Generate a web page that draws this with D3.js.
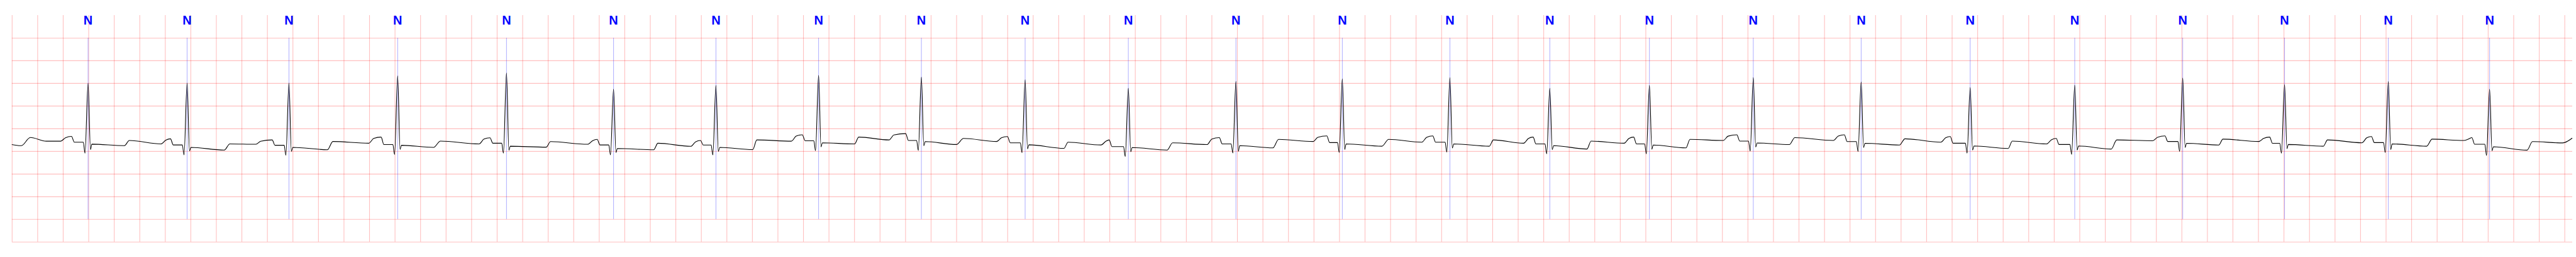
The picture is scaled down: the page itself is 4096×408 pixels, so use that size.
<!DOCTYPE html>
<html><head><meta charset="utf-8">
<script src="https://cdn.jsdelivr.net/npm/d3@7"></script>
<style>html,body{margin:0;padding:0;background:#fff;overflow:hidden}</style>
</head><body>
<svg id="chart" width="4096" height="408"></svg>
<script>
// ---- data (time in s, amplitude in mV) ----
const xDomain = [0, 20.061];
const yDomain = [-2.5, 2.5];
const xGridTicks = d3.range(0, 20.0001, 0.2);
const yGridTicks = [-2.5, -2, -1.5, -1, -0.5, 0, 0.5, 1, 1.5, 2];
const annLineRange = [-2, 2];

// beat annotations
const annTimes = [0.5976,1.3735,2.1715,3.0232,3.8759,4.7147,5.5169,6.3212,7.1266,7.9394,8.7480,9.5911,10.4245,11.2676,12.0503,12.8308,13.6446,14.4898,15.3439,16.1631,17.0092,17.8071,18.6201,19.4137];
const annSymbols = ["N","N","N","N","N","N","N","N","N","N","N","N","N","N","N","N","N","N","N","N","N","N","N","N"];

// leading segment before first P wave
const headTimes  = [0, 0.068, 0.075, 0.145, 0.27];
const headValues = [-0.355, -0.380, -0.380, -0.200, -0.281];

// P wave preceding each beat
const pStarts = [0.3824,1.1685,1.9118,2.7972,3.6612,4.5118,5.3194,6.1075,6.8730,7.7155,8.5339,9.3646,10.1948,11.0475,11.8450,12.6325,13.4093,14.2722,15.1133,15.9422,16.7740,17.6045,18.4129,19.2106];
const pOnsetLevels = [-0.281,-0.342,-0.350,-0.327,-0.342,-0.350,-0.395,-0.281,-0.254,-0.289,-0.365,-0.357,-0.289,-0.304,-0.327,-0.327,-0.266,-0.266,-0.304,-0.342,-0.272,-0.289,-0.317,-0.266];
const pPeaks = [-0.176,-0.229,-0.254,-0.191,-0.206,-0.242,-0.266,-0.140,-0.115,-0.178,-0.254,-0.204,-0.166,-0.166,-0.191,-0.191,-0.140,-0.140,-0.178,-0.221,-0.166,-0.191,-0.178,-0.204];
const pEnds = [0.4897,1.2651,2.0620,2.9153,3.7686,4.6084,5.4177,6.2156,7.0252,7.8229,8.6198,9.4832,10.3252,11.1554,11.9416,12.7294,13.5381,14.3801,15.2099,16.0402,16.8921,17.7124,18.5101,19.2966];

// QRS complexes
const rTimes = [0.5976,1.3735,2.1715,3.0232,3.8759,4.7147,5.5169,6.3212,7.1266,7.9394,8.7480,9.5911,10.4245,11.2676,12.0503,12.8308,13.6446,14.4898,15.3439,16.1631,17.0092,17.8071,18.6201,19.4137];
const rPeaks = [0.998,1.003,1.003,1.162,1.225,0.867,0.951,1.170,1.132,1.074,0.888,1.039,1.094,1.124,0.888,0.948,1.124,1.026,0.905,0.956,1.112,0.968,1.035,0.867];
const prLevels = [-0.304,-0.365,-0.372,-0.357,-0.327,-0.365,-0.367,-0.272,-0.266,-0.317,-0.402,-0.342,-0.312,-0.304,-0.342,-0.342,-0.279,-0.291,-0.327,-0.355,-0.289,-0.329,-0.312,-0.350];
const qLevels = [-0.548,-0.584,-0.592,-0.576,-0.546,-0.584,-0.586,-0.491,-0.486,-0.536,-0.621,-0.542,-0.531,-0.523,-0.561,-0.561,-0.499,-0.510,-0.546,-0.574,-0.508,-0.548,-0.531,-0.596];
const sLevels = [-0.466,-0.499,-0.508,-0.463,-0.484,-0.533,-0.508,-0.408,-0.382,-0.453,-0.514,-0.505,-0.466,-0.433,-0.470,-0.458,-0.412,-0.420,-0.478,-0.478,-0.420,-0.446,-0.466,-0.493];
const jLevels = [-0.347,-0.418,-0.418,-0.372,-0.393,-0.443,-0.418,-0.317,-0.291,-0.362,-0.423,-0.380,-0.342,-0.342,-0.380,-0.367,-0.322,-0.329,-0.388,-0.388,-0.329,-0.355,-0.342,-0.405];

// ST segment and T step after each beat
const stEnds = [0.882,1.6649,2.4726,3.3044,4.1871,5.0297,5.8051,6.6036,7.4016,8.2433,9.0518,9.8809,10.7341,11.5759,12.3414,13.1168,13.9272,14.7900,15.6415,16.4494,17.2919,18.1111,18.9200,19.7068];
const stLevels = [-0.380,-0.478,-0.470,-0.418,-0.414,-0.470,-0.468,-0.342,-0.355,-0.440,-0.478,-0.430,-0.393,-0.393,-0.455,-0.430,-0.357,-0.367,-0.443,-0.455,-0.367,-0.393,-0.393,-0.480];
const tRiseEnds = [0.9209,1.7079,2.5155,3.3580,4.2209,5.0619,5.8373,6.6358,7.4564,8.2758,9.0947,9.9252,10.7878,11.6081,12.3736,13.1490,13.9701,14.8329,15.6739,16.4923,17.3241,18.1435,18.9632,19.7497];
const tLevels = [-0.266,-0.342,-0.289,-0.279,-0.291,-0.327,-0.254,-0.191,-0.221,-0.304,-0.317,-0.242,-0.242,-0.254,-0.279,-0.242,-0.204,-0.229,-0.279,-0.254,-0.236,-0.254,-0.236,-0.291];

// trailing segment after last T step
const tailTimes  = [19.9858, 20.061];
const tailValues = [-0.320, -0.213];

// waveform shape offsets relative to R (s) and P-wave shape
const P_RISE = 0.038, P_FALL = 0.022, P_SHOULDER = 0.03;
const PR_END = -0.0376, Q_OFF = -0.0241, S_OFF = 0.0188, J_OFF = 0.0295;

// ---- build trace ----
const pts = [];
headTimes.forEach((t, i) => pts.push([t, headValues[i]]));
rTimes.forEach((r, i) => {
  pts.push([pStarts[i], pOnsetLevels[i]]);
  pts.push([pStarts[i] + P_RISE, pPeaks[i] - P_SHOULDER]);
  pts.push([pEnds[i] - P_FALL, pPeaks[i]]);
  pts.push([pEnds[i], prLevels[i]]);
  pts.push([r + PR_END, prLevels[i]]);
  pts.push([r + Q_OFF, qLevels[i]]);
  pts.push([r, rPeaks[i]]);
  pts.push([r + S_OFF, sLevels[i]]);
  pts.push([r + J_OFF, jLevels[i]]);
  pts.push([stEnds[i], stLevels[i]]);
  pts.push([tRiseEnds[i], tLevels[i]]);
});
tailTimes.forEach((t, i) => pts.push([t, tailValues[i]]));

// ---- chart ----
const svg = d3.select("#chart");
const x = d3.scaleLinear().domain(xDomain).range([18.79, 4090.0]);
const y = d3.scaleLinear().domain(yDomain).range([383.8, 23.94]);
const plotH = y(yDomain[0]) - y(yDomain[1]);
const plotW = x(xDomain[1]) - x(xDomain[0]);

const gridColor = "rgba(255,0,0,0.25)";

const gx = svg.append("g").attr("transform", `translate(0,${y(yDomain[0])})`)
  .call(d3.axisBottom(x).tickValues(xGridTicks).tickSize(-plotH).tickFormat(""));
gx.select(".domain").remove();
gx.selectAll(".tick line").attr("stroke", gridColor).attr("stroke-width", 1.1);

const gy = svg.append("g").attr("transform", `translate(${x(xDomain[0])},0)`)
  .call(d3.axisLeft(y).tickValues(yGridTicks).tickSize(-plotW).tickFormat(""));
gy.select(".domain").remove();
gy.selectAll(".tick line").attr("stroke", gridColor).attr("stroke-width", 1.1);

// annotation lines
svg.append("g").selectAll("line").data(annTimes).join("line")
  .attr("x1", d => x(d)).attr("x2", d => x(d))
  .attr("y1", y(annLineRange[1])).attr("y2", y(annLineRange[0]))
  .attr("stroke", "blue").attr("stroke-opacity", 0.55).attr("stroke-width", 0.6);

// ECG trace
const line = d3.line().x(d => x(d[0])).y(d => y(d[1])).curve(d3.curveMonotoneX);
svg.append("path").datum(pts).attr("d", line)
  .attr("fill", "none").attr("stroke", "black").attr("stroke-width", 1.1)
  .attr("stroke-linejoin", "round");

// annotation symbols
svg.append("g").selectAll("text").data(annTimes).join("text")
  .attr("x", d => x(d)).attr("y", y(yDomain[1]) + 14.7)
  .attr("text-anchor", "middle")
  .attr("font-family", "'Liberation Sans', Arial, sans-serif")
  .attr("font-weight", "bold").attr("font-size", "20px")
  .attr("fill", "#0000ff")
  .text((d, i) => annSymbols[i]);
</script>
</body></html>
